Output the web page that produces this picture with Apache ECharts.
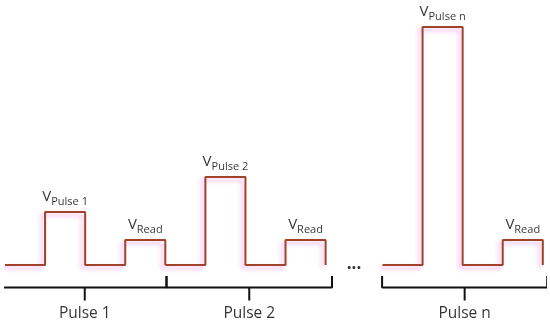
<!DOCTYPE html>
<html>
<head>
<meta charset="utf-8">
<script src="https://cdn.jsdelivr.net/npm/echarts@6/dist/echarts.min.js"></script>
<style>html,body{margin:0;padding:0;background:#fff}#c{width:550px;height:325px}</style>
</head>
<body>
<div id="c"></div>
<script>
// ---- data ----
const groupNames = ['Pulse 1', 'Pulse 2', 'Pulse n'];
const groupStarts = [0, 4, 9.42];          // time at which each pulse group starts
const segmentWidths = [1, 1, 1, 1];        // baseline, write pulse, baseline, read pulse
const pulseLevels = [1.06, 1.76, 4.76];    // V_Pulse amplitude for each group
const readLevels = [0.5, 0.5, 0.5];        // V_Read amplitude
const baseLevel = 0;
const pulseSubs = ['Pulse 1', 'Pulse 2', 'Pulse n'];
const readSub = 'Read';
const bracketStart = [-0.05, 4.03, 9.41];
const bracketEnd = [4.03, 8.16, 13.53];
const bracketTickTop = -0.22;
const bracketBar = -0.45;
const bracketMidTick = -0.71;
const nameLevel = -0.98;
const ellipsisPos = [8.71, 0.02];

// ---- build ----
const lineColor = '#a0432a';
const signalSeries = groupStarts.map((s, g) => {
  const levels = [baseLevel, pulseLevels[g], baseLevel, readLevels[g]];
  const pts = [];
  let x = s;
  levels.forEach((lv, i) => {
    pts.push([x, lv]);
    x += segmentWidths[i];
    pts.push([x, lv]);
  });
  pts.push([x, baseLevel]);
  return {
    type: 'line', data: pts, symbol: 'none', silent: true, z: 3,
    lineStyle: { color: lineColor, width: 2, shadowColor: 'rgba(247,175,234,0.95)', shadowBlur: 4, shadowOffsetX: -3, shadowOffsetY: 3 }
  };
});

const bracketSeries = [];
groupStarts.forEach((s, g) => {
  const a = bracketStart[g], b = bracketEnd[g], m = (a + b) / 2;
  bracketSeries.push({
    type: 'line', symbol: 'none', silent: true, z: 2,
    lineStyle: { color: '#111', width: 2 },
    data: [[a, bracketTickTop], [a, bracketBar], [b, bracketBar], [b, bracketTickTop]]
  });
  bracketSeries.push({
    type: 'line', symbol: 'none', silent: true, z: 2,
    lineStyle: { color: '#111', width: 2 },
    data: [[m, bracketBar], [m, bracketMidTick]]
  });
});

const labelPts = [];
groupStarts.forEach((s, g) => {
  labelPts.push({ value: [s + segmentWidths[0] + segmentWidths[1] / 2, pulseLevels[g]], sub: pulseSubs[g] });
  labelPts.push({ value: [s + segmentWidths[0] + segmentWidths[1] + segmentWidths[2] + segmentWidths[3] / 2, readLevels[g]], sub: readSub });
});

const font = '"Open Sans", Lato, sans-serif';
const vLabelSeries = {
  type: 'scatter', symbolSize: 0, silent: true, z: 5,
  data: labelPts.map(p => ({ value: p.value, sub: p.sub })),
  label: {
    show: true, position: 'top', distance: 0,
    formatter: p => '{v|V}{s|' + p.data.sub + '}',
    rich: {
      v: { fontFamily: font, fontSize: 15, color: '#000', height: 10, lineHeight: 10, verticalAlign: 'top' },
      s: { fontFamily: font, fontSize: 11, color: '#000', height: 20, lineHeight: 20, verticalAlign: 'bottom' }
    }
  }
};

const nameSeries = {
  type: 'scatter', symbolSize: 0, silent: true, z: 5,
  data: groupStarts.map((s, g) => ({ value: [(bracketStart[g] + bracketEnd[g]) / 2, nameLevel], name: groupNames[g] })),
  label: { show: true, position: 'inside', formatter: p => p.name, fontFamily: font, fontSize: 15.5, color: '#000' }
};

const dotsSeries = {
  type: 'scatter', symbolSize: 0, silent: true, z: 5,
  data: [{ value: ellipsisPos }],
  label: { show: true, position: 'inside', formatter: '...', fontFamily: font, fontSize: 17, fontWeight: 'bold', color: '#000' }
};

const chart = echarts.init(document.getElementById('c'), null, { renderer: 'canvas' });
chart.setOption({
  animation: false,
  backgroundColor: '#fff',
  grid: { left: 5, right: 4, top: 15, bottom: 0, containLabel: false },
  xAxis: { type: 'value', min: 0, max: 13.5, show: false },
  yAxis: { type: 'value', min: -1.2, max: 5, show: false },
  series: [...bracketSeries, ...signalSeries, vLabelSeries, nameSeries, dotsSeries]
});
</script>
</body>
</html>
